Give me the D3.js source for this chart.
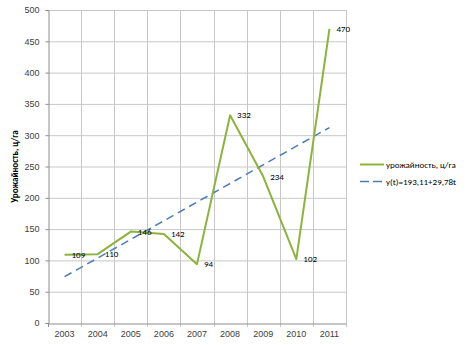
<!DOCTYPE html>
<html><head><meta charset="utf-8">
<script src="https://cdn.jsdelivr.net/npm/d3@7"></script>
<style>
body{margin:0;background:#fff;}
svg{display:block;font-family:Calibri,"Liberation Sans",Arial,sans-serif;}
</style></head>
<body><div id="chart"></div>
<script>
const years = ["2003","2004","2005","2006","2007","2008","2009","2010","2011"];
const yieldValues = [109,110,146,142,94,332,234,102,470];
const trendValues = [74.0,103.8,133.6,163.4,193.1,222.9,252.8,282.6,312.2];
const yTicks = [0,50,100,150,200,250,300,350,400,450,500];
const seriesName = "урожайность, ц/га";
const trendName = "y(t)=193,11+29,78t";
const yTitle = "Урожайность, ц/га";

const W=467,H=345;
const m={left:48,right:121,top:10,bottom:22};
const svg=d3.select("#chart").append("svg").attr("width",W).attr("height",H);
const x=d3.scaleBand().domain(years).range([m.left,W-m.right]).padding(0);
const y=d3.scaleLinear().domain([0,500]).range([H-m.bottom,m.top]);
const cx=d=>x(d)+x.bandwidth()/2;

const g=svg.append("g");
g.selectAll(".hg").data(yTicks.slice(1)).enter().append("line")
 .attr("x1",m.left).attr("x2",W-m.right).attr("y1",d=>y(d)+0.5).attr("y2",d=>y(d)+0.5)
 .attr("stroke","#c8c8c8").attr("stroke-width",1);
g.selectAll(".vg").data(years).enter().append("line")
 .attr("x1",d=>Math.round(x(d)+x.bandwidth())+0.5).attr("x2",d=>Math.round(x(d)+x.bandwidth())+0.5)
 .attr("y1",m.top).attr("y2",H-m.bottom+4)
 .attr("stroke","#c8c8c8").attr("stroke-width",1);

const yAxis=d3.axisLeft(y).tickValues(yTicks).tickSize(3).tickPadding(6);
const ya=svg.append("g").attr("transform",`translate(${m.left+0.5},0)`).call(yAxis);
ya.select(".domain").attr("stroke","#8c8c8c");
ya.selectAll(".tick line").attr("stroke","#8c8c8c");
ya.selectAll("text").attr("font-size",9).attr("fill","#404040");

const xAxis=d3.axisBottom(x).tickSize(0).tickPadding(7);
const xa=svg.append("g").attr("transform",`translate(0,${H-m.bottom+0.5})`).call(xAxis);
xa.select(".domain").attr("stroke","#8c8c8c");
xa.selectAll("text").attr("font-size",9).attr("fill","#404040");
svg.append("line").attr("x1",m.left+0.5).attr("x2",m.left+0.5).attr("y1",H-m.bottom).attr("y2",H-m.bottom+4).attr("stroke","#8c8c8c");

svg.append("text").attr("transform",`translate(18,${(m.top+H-m.bottom)/2}) rotate(-90)`)
 .attr("text-anchor","middle").attr("font-size",9).attr("font-weight","bold").attr("fill","#000").text(yTitle);

const line=d3.line().x((d,i)=>cx(years[i])).y(d=>y(d));
svg.append("path").datum([trendValues[0],trendValues[trendValues.length-1]])
 .attr("d",d3.line().x((d,i)=>cx(years[i===0?0:years.length-1])).y(d=>y(d)))
 .attr("fill","none").attr("stroke","#4a7ebb").attr("stroke-width",1.5).attr("stroke-dasharray","8,5");

svg.append("path").datum(yieldValues).attr("d",line)
 .attr("fill","none").attr("stroke","#8cb33c").attr("stroke-width",2).attr("stroke-linejoin","round");

svg.selectAll(".lbl").data(yieldValues).enter().append("text")
 .attr("x",(d,i)=>cx(years[i])+7).attr("y",d=>y(d)).attr("dy","0.35em")
 .attr("font-size",9).attr("fill","#000").text(d=>d);

const lg=svg.append("g");
lg.append("line").attr("x1",360).attr("x2",384).attr("y1",164.5).attr("y2",164.5).attr("stroke","#8cb33c").attr("stroke-width",2);
lg.append("text").attr("x",386).attr("y",164.5).attr("dy","0.35em").attr("font-size",9).attr("fill","#000").text(seriesName);
lg.append("line").attr("x1",360).attr("x2",384).attr("y1",181.5).attr("y2",181.5).attr("stroke","#4a7ebb").attr("stroke-width",1.5).attr("stroke-dasharray","9,4");
lg.append("text").attr("x",386).attr("y",181.5).attr("dy","0.35em").attr("font-size",9).attr("fill","#000").text(trendName);
</script></body></html>
